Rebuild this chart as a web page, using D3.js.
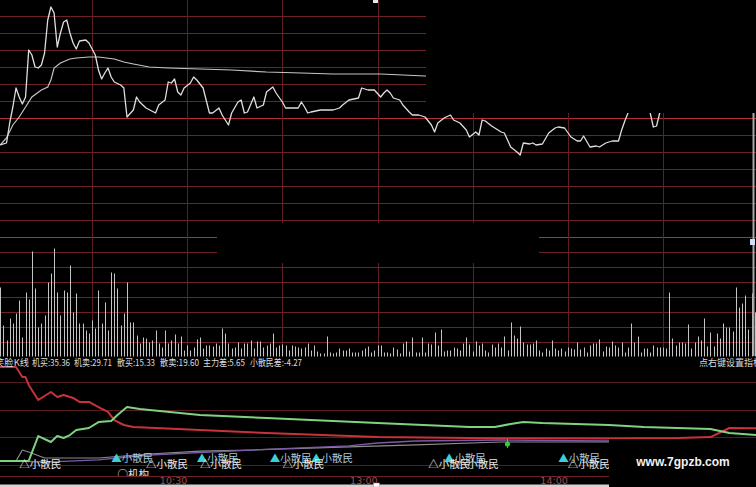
<!DOCTYPE html>
<html><head><meta charset="utf-8">
<script src="https://cdn.jsdelivr.net/npm/d3@7"></script>
<style>html,body{margin:0;padding:0;background:#000;overflow:hidden}</style>
</head><body>
<svg id="c" width="756" height="487"></svg>
<script>
// ---------------- data ----------------
const prevClose = 8.50;
const priceStep = 0.17;
const priceT = [1,3,4,5,6,7,8,9,10,11,12,13,14,15,16,17,18,19,20,21,22,23,24,25,26,28,29,31,32,33,34,35,36,37,39,40,41,43,44,45,47,50,51,53,54,55,56,57,58,59,61,62,63,65,67,68,70,71,73,74,76,77,78,79,81,82,84,85,87,88,90,91,92,95,96,97,98,99,102,106,108,109,111,114,115,117,119,121,122,123,124,125,127,128,130,131,133,135,137,138,139,141,143,144,146,148,149,151,152,153,154,156,157,159,160,162,164,165,166,168,169,170,172,174,176,177,179,181,183,184,185,187,189,190,192,194,196,197,198,199,201,203,205,206,207,208,209,211,215,220,228,235,240];
const priceV = [8.23,8.25,8.45,8.61,8.80,8.71,8.64,8.71,9.18,9.13,9.01,9.00,9.03,9.15,9.48,9.61,9.55,9.21,9.35,9.46,9.48,9.35,9.25,9.19,9.27,9.28,9.25,9.13,8.98,8.89,8.95,9.00,8.91,8.86,8.83,8.80,8.51,8.58,8.71,8.66,8.60,8.55,8.63,8.68,8.86,8.85,8.89,8.76,8.73,8.80,8.85,8.91,8.88,8.80,8.55,8.55,8.60,8.53,8.43,8.55,8.66,8.68,8.55,8.56,8.71,8.60,8.63,8.76,8.81,8.75,8.66,8.60,8.60,8.60,8.66,8.61,8.55,8.56,8.58,8.58,8.60,8.63,8.68,8.70,8.80,8.78,8.78,8.71,8.75,8.78,8.75,8.70,8.68,8.63,8.56,8.53,8.53,8.51,8.43,8.36,8.45,8.50,8.53,8.48,8.45,8.38,8.31,8.36,8.33,8.48,8.47,8.42,8.40,8.36,8.35,8.21,8.16,8.13,8.25,8.24,8.25,8.23,8.24,8.35,8.40,8.41,8.40,8.31,8.27,8.27,8.32,8.21,8.22,8.21,8.25,8.27,8.27,8.38,8.47,8.55,8.70,8.68,8.62,8.55,8.41,8.42,8.55,8.68,8.72,8.70,8.78,8.80,8.82];
const avgT = [1,3,5,7,9,11,14,16,17,18,20,23,25,29,32,37,40,43,48,54,64,74,85,96,106,121,128,135,160,200,240];
const avgV = [8.23,8.30,8.43,8.51,8.61,8.71,8.78,8.81,8.88,9.00,9.05,9.09,9.10,9.11,9.11,9.09,9.06,9.04,9.01,9.00,8.99,8.98,8.96,8.95,8.94,8.94,8.93,8.92,8.85,8.75,8.72];
// volume per minute, morning minutes 1..120, afternoon 121..239
const volMorning = [690,310,160,380,330,430,560,190,640,570,1050,680,290,330,410,740,830,1080,640,410,660,640,910,440,630,330,330,260,230,360,280,660,330,540,260,840,830,680,310,430,740,340,340,210,130,190,180,140,160,260,130,90,260,130,160,220,130,200,60,110,60,90,170,190,80,110,110,100,130,110,280,230,130,80,90,140,80,130,130,160,80,150,150,90,110,130,230,90,110,120,110,60,110,100,90,80,90,130,60,110,50,30,30,200,40,30,40,80,60,60,80,40,40,40,60,80,100,40,60,110];
const volAfternoon = [110,40,40,30,90,70,30,130,150,50,190,40,40,190,40,130,120,240,110,270,50,60,60,90,80,60,130,190,120,50,150,110,130,60,40,120,90,130,90,200,60,340,210,180,300,140,120,120,130,160,60,40,80,60,160,80,60,80,50,90,80,70,140,70,90,40,110,130,130,170,50,100,90,150,110,90,140,40,90,330,140,200,40,80,80,40,110,90,90,90,80,640,180,110,140,140,130,320,80,140,200,160,380,100,240,100,230,180,330,290,290,250,690,490,530,610,270,630,440];
// indicator lines
const jiBuyT = [0,6,8,9,10,13,15,17,19,21,24,26,29,32,35,37,40,43,64,85,120,149,193,215,225,231,240];
const jiBuyV = [84.7,84.7,76.6,76.6,70.2,58.1,61.3,64.5,60.5,62.1,59.7,56.5,56.5,52.4,48.4,41.9,37.9,36.3,33.9,31.5,28.2,27.4,27.0,27.4,28.2,35.5,35.36];
const jiSellT = [0,6,10,13,17,19,21,23,25,29,32,36,38,41,45,64,85,106,120,149,157,162,166,172,193,204,225,231,240];
const jiSellV = [8.9,8.9,8.9,29.0,24.2,29.0,27.4,29.8,33.9,35.5,40.3,41.1,46.0,52.4,50.8,46.0,43.5,41.1,39.5,36.3,36.3,38.7,40.3,39.5,37.9,36.3,34.7,31.5,29.71];
const sanSellT = [0,6,8,10,15,32,48,64,80,111,132,159,193,240];
const sanSellV = [8.9,8.9,17.7,16.1,11.3,11.3,14.5,16.9,17.7,20.2,21.8,24.2,24.2,19.60];
const sanBuyT = [0,17,32,48,80,111,120,132,159,193,240];
const sanBuyV = [8.9,8.1,9.7,13.7,17.7,21.0,23.4,25.0,25.8,25.0,15.33];
const headerLabels = ["笑脸K线","机买:35.36","机卖:29.71","散买:15.33","散卖:19.60","主力差:5.65","小散民差:-4.27"];
const hintLabel = "点右键设置指标";
const gridMinutes = [30,60,90,120,150,180,210];
const timeTicks = [60,120,180];
const timeTickLabels = ["10:30","13:00","14:00"];
const buySignalT = [36,63,86,99,141,177];
const sellSignalT = [7,47,64,90,136,145,180];
const instSignalT = [38];
const markerT = [161];
const markerV = [22.6];
const watermark = "www.7gpzb.com";

// ---------------- layout ----------------
const headerX = [-5,32,74,117,160,203,250];
const headerW = [34,38,38,38,39,42,52];
const CJK = '"Noto Sans CJK SC", sans-serif';

const svg = d3.select('#c');
const x = d3.scaleLinear().domain([0,240]).range([-3,758]);
const yP = d3.scaleLinear().domain([prevClose-7*priceStep, prevClose+7*priceStep]).range([237,-1]);
const yV = d3.scaleLinear().domain([0,1200]).range([356.5,236.5]);
const yI = d3.scaleLinear().domain([0,85]).range([472,366.6]);
const crisp = v => Math.round(v)+0.5;

svg.append('rect').attr('width',756).attr('height',487).attr('fill','#000');

// price grid
const gP = svg.append('g');
d3.range(-7,7).forEach(k=>{
  const yy = crisp(yP(prevClose + k*priceStep));
  const strong = (k===0 || k===-7);
  gP.append('line').attr('x1',0).attr('x2',756).attr('y1',yy).attr('y2',yy)
    .attr('stroke', strong ? '#b52c36' : '#6e2228').attr('stroke-width',1);
});
// volume grid
d3.range(150,1200,150).forEach(v=>{
  const yy = crisp(yV(v));
  gP.append('line').attr('x1',0).attr('x2',756).attr('y1',yy).attr('y2',yy)
    .attr('stroke','#6e2228').attr('stroke-width',1);
});
// vertical grid
gridMinutes.forEach(m=>{
  const xx = crisp(x(m));
  gP.append('line').attr('x1',xx).attr('x2',xx).attr('y1',0).attr('y2',356)
    .attr('stroke','#5c2026').attr('stroke-width',1);
});

// volume bars
const vols = volMorning.map((v,i)=>({t:i+1,v})).concat(volAfternoon.map((v,i)=>({t:i+121,v})));
svg.append('g').selectAll('line').data(vols).join('line')
  .attr('x1',d=>crisp(x(d.t))).attr('x2',d=>crisp(x(d.t)))
  .attr('y1',yV(0)).attr('y2',d=>yV(d.v))
  .attr('stroke','#c4c4c4').attr('stroke-width',1);

// price & avg lines
const lineP = d3.line().x(d=>x(d[0])).y(d=>yP(d[1]));
svg.append('path').datum(avgT.map((t,i)=>[t,avgV[i]])).attr('d',lineP)
  .attr('fill','none').attr('stroke','#c4c4c4').attr('stroke-width',1.2);
svg.append('path').datum(priceT.map((t,i)=>[t,priceV[i]])).attr('d',lineP)
  .attr('fill','none').attr('stroke','#dedede').attr('stroke-width',1.3).attr('stroke-linejoin','round');

// occluding black blocks
svg.append('rect').attr('x',426).attr('y',0).attr('width',330).attr('height',113).attr('fill','#000');
svg.append('rect').attr('x',217).attr('y',223).attr('width',322).attr('height',40).attr('fill','#000');
// right edge bar
svg.append('line').attr('x1',753.5).attr('x2',753.5).attr('y1',113).attr('y2',356).attr('stroke','#a8a8a8').attr('stroke-width',2);
svg.append('rect').attr('x',750).attr('y',239).attr('width',5).attr('height',6).attr('fill','#d0e0f4');
svg.append('rect').attr('x',373).attr('y',0).attr('width',5).attr('height',3).attr('fill','#e8e8e8');

// indicator panel
const defs = svg.append('defs');
defs.append('clipPath').attr('id','ci').append('rect').attr('x',0).attr('y',366).attr('width',756).attr('height',110);
const gI = svg.append('g').attr('clip-path','url(#ci)');
[382,409.5,437,464.5].forEach(yy=>{
  gI.append('line').attr('x1',0).attr('x2',756).attr('y1',crisp(yy)).attr('y2',crisp(yy))
    .attr('stroke','#561c22').attr('stroke-width',1);
});
const lineI = d3.line().x(d=>x(d[0])).y(d=>yI(d[1]));
const series = [
  {t:sanSellT,v:sanSellV,c:'#8c8c8c',w:1.2},
  {t:sanBuyT,v:sanBuyV,c:'#7d5aa6',w:1.3},
  {t:jiBuyT,v:jiBuyV,c:'#c7323b',w:2},
  {t:jiSellT,v:jiSellV,c:'#7fd27f',w:2}
];
series.forEach(s=>{
  gI.append('path').datum(s.t.map((t,i)=>[t,s.v[i]])).attr('d',lineI)
    .attr('fill','none').attr('stroke',s.c).attr('stroke-width',s.w).attr('stroke-linejoin','round');
});
// signal labels
buySignalT.forEach(t=>{
  const tx = gI.append('text').attr('x',x(t)).attr('y',462).attr('font-family',CJK).attr('font-size',10.5);
  tx.append('tspan').attr('fill','#3ccfd8').text('▲');
  tx.append('tspan').attr('fill','#a9c6d9').text('小散民');
});
sellSignalT.forEach(t=>{
  gI.append('text').attr('x',x(t)).attr('y',468).attr('font-family',CJK).attr('font-size',10.5)
    .attr('fill','#e8e8e8').text('△小散民');
});
instSignalT.forEach(t=>{
  gI.append('text').attr('x',x(t)).attr('y',478).attr('font-family',CJK).attr('font-size',10.5)
    .attr('fill','#e8e8e8').text('○机构');
});
markerT.forEach((t,i)=>{
  const cx = x(t), cy = yI(markerV[i]);
  gI.append('line').attr('x1',cx).attr('x2',cx).attr('y1',cy-5).attr('y2',cy+4).attr('stroke','#2fd02f').attr('stroke-width',1);
  gI.append('circle').attr('cx',cx).attr('cy',cy).attr('r',2.6).attr('fill','#2fd02f');
});

// header
headerLabels.forEach((s,i)=>{
  svg.append('text').attr('x',headerX[i]).attr('y',366).attr('font-family',CJK).attr('font-size',9.5)
    .attr('fill','#dcdcdc').attr('textLength',headerW[i]).attr('lengthAdjust','spacingAndGlyphs').text(s);
});
svg.append('text').attr('x',699).attr('y',366).attr('font-family',CJK).attr('font-size',9)
  .attr('fill','#dcdcdc').text(hintLabel);

// time axis
svg.append('line').attr('x1',0).attr('x2',609).attr('y1',476.5).attr('y2',476.5).attr('stroke','#6e2228');
timeTicks.forEach((m,i)=>{
  svg.append('text').attr('x',x(m)).attr('y',484).attr('text-anchor','end')
    .attr('font-family','"DejaVu Sans", sans-serif').attr('font-size',9.5).attr('fill','#a24a52').text(timeTickLabels[i]);
});
svg.append('rect').attr('x',0).attr('y',484.5).attr('width',609).attr('height',3).attr('fill','#d4d4d4');
svg.append('rect').attr('x',x(120)-4).attr('y',483).attr('width',6).attr('height',4).attr('fill','#fff').attr('stroke','#888').attr('stroke-width',0.5);

// watermark
svg.append('rect').attr('x',609).attr('y',439).attr('width',147).attr('height',48).attr('fill','#000');
svg.append('text').attr('x',683).attr('y',466).attr('text-anchor','middle')
  .attr('font-family','"Liberation Sans", Arial, sans-serif').attr('font-weight','bold').attr('font-size',12)
  .attr('fill','#f2f2f2').text(watermark);
</script>
</body></html>
